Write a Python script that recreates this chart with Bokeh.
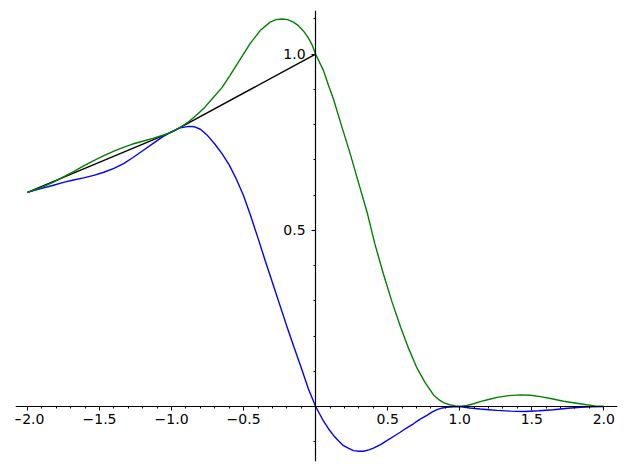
from bokeh.plotting import figure
from bokeh.models import LinearAxis, FixedTicker, Range1d, CustomJSTickFormatter
from bokeh.embed import file_html
from bokeh.resources import INLINE

# black: piecewise linear
black_x = [-2.0, -1.0, 0.0]
black_y = [0.608, 0.779, 1.0]

# blue curve
blue_x = [-2.00, -1.90, -1.82, -1.75, -1.68, -1.61, -1.54, -1.47, -1.40, -1.33,
          -1.27, -1.20, -1.13, -1.06, -1.00, -0.94, -0.88, -0.84, -0.80, -0.75,
          -0.70, -0.65, -0.60, -0.55, -0.50, -0.45, -0.40, -0.35, -0.30, -0.25,
          -0.20, -0.15, -0.10, -0.05, 0.0, 0.054, 0.089, 0.124, 0.16, 0.193,
          0.23, 0.263, 0.30, 0.332, 0.37, 0.401, 0.45, 0.494, 0.54, 0.587,
          0.63, 0.679, 0.72, 0.772, 0.81, 0.842, 0.88, 0.911, 0.96, 1.0,
          1.07, 1.142, 1.20, 1.26, 1.35, 1.45, 1.55, 1.65, 1.75, 1.84,
          1.92, 2.0]
blue_y = [0.608, 0.619, 0.628, 0.636, 0.643, 0.649, 0.656, 0.665, 0.676, 0.690,
          0.706, 0.726, 0.746, 0.766, 0.780, 0.791, 0.795, 0.794, 0.787, 0.769,
          0.745, 0.718, 0.686, 0.645, 0.598, 0.540, 0.478, 0.414, 0.352, 0.290,
          0.228, 0.168, 0.110, 0.050, 0.0, -0.041, -0.063, -0.082, -0.098, -0.111,
          -0.119, -0.125, -0.127, -0.127, -0.123, -0.118, -0.108, -0.097, -0.085, -0.073,
          -0.061, -0.049, -0.037, -0.025, -0.015, -0.009, -0.004, -0.002, -0.001, 0.0,
          -0.004, -0.007, -0.009, -0.011, -0.013, -0.014, -0.012, -0.009, -0.005, -0.002,
          -0.001, 0.0]

# green curve
green_x = [-2.00, -1.90, -1.82, -1.75, -1.68, -1.61, -1.54, -1.47, -1.40, -1.33,
           -1.27, -1.20, -1.13, -1.06, -1.00, -0.94, -0.88, -0.83, -0.77, -0.71,
           -0.65, -0.594, -0.524, -0.455, -0.385, -0.316, -0.275, -0.235, -0.195, -0.154,
           -0.12, -0.085, -0.055, -0.026, 0.0, 0.054, 0.089, 0.124, 0.17, 0.24,
           0.30, 0.36, 0.41, 0.47, 0.53, 0.59, 0.645, 0.70, 0.76, 0.818,
           0.86, 0.888, 0.93, 0.97, 1.0, 1.05, 1.096, 1.142, 1.20, 1.26,
           1.34, 1.42, 1.49, 1.56, 1.64, 1.72, 1.80, 1.88, 1.94, 2.0]
green_y = [0.608, 0.622, 0.637, 0.652, 0.667, 0.683, 0.698, 0.712, 0.725, 0.736,
           0.745, 0.753, 0.761, 0.770, 0.779, 0.792, 0.809, 0.826, 0.849, 0.877,
           0.905, 0.940, 0.985, 1.030, 1.067, 1.091, 1.098, 1.100, 1.098, 1.091,
           1.081, 1.066, 1.049, 1.028, 1.0, 0.954, 0.912, 0.872, 0.810, 0.717,
           0.632, 0.547, 0.463, 0.377, 0.297, 0.225, 0.165, 0.112, 0.068, 0.033,
           0.018, 0.011, 0.005, 0.002, 0.0, 0.003, 0.008, 0.014, 0.020, 0.026,
           0.031, 0.033, 0.032, 0.028, 0.022, 0.015, 0.010, 0.005, 0.002, 0.0]

x_major = [-2.0, -1.5, -1.0, -0.5, 0.5, 1.0, 1.5, 2.0]
x_minor = [round(-2.0 + 0.1 * i, 1) for i in range(41)]
y_major = [0.5, 1.0]
y_minor = [round(-0.1 + 0.1 * i, 1) for i in range(13)]

p = figure(width=618, height=462, output_backend="svg", toolbar_location=None,
           x_axis_type=None, y_axis_type=None,
           x_range=Range1d(-2.083, 2.095), y_range=Range1d(-0.156, 1.124),
           min_border_left=15, min_border_right=1, min_border_top=10, min_border_bottom=1)
p.grid.visible = False
p.outline_line_color = None
p.background_fill_color = "white"

p.line(black_x, black_y, line_color="black", line_width=1.4)
p.line(blue_x, blue_y, line_color="#0000ff", line_width=1.4)
p.line(green_x, green_y, line_color="#008000", line_width=1.4)

fmt = CustomJSTickFormatter(code="return tick.toFixed(1).replace('-', '\u2212');")

def style(ax):
    ax.axis_line_color = "black"
    ax.axis_line_width = 1.2
    ax.major_tick_out = 4
    ax.major_tick_in = 0
    ax.minor_tick_out = 2
    ax.minor_tick_in = 0
    ax.major_tick_line_color = "black"
    ax.minor_tick_line_color = "black"
    ax.major_label_text_font = "DejaVu Sans"
    ax.major_label_text_font_size = "14px"
    ax.major_label_text_color = "black"
    ax.formatter = fmt

xax = LinearAxis(fixed_location=0, ticker=FixedTicker(ticks=x_major, minor_ticks=x_minor))
style(xax)
xax.major_label_standoff = 3
p.add_layout(xax, "below")

yax = LinearAxis(fixed_location=0, ticker=FixedTicker(ticks=y_major, minor_ticks=y_minor))
style(yax)
yax.major_label_standoff = 6
p.add_layout(yax, "left")

open("out.html", "w").write(file_html(p, INLINE))
